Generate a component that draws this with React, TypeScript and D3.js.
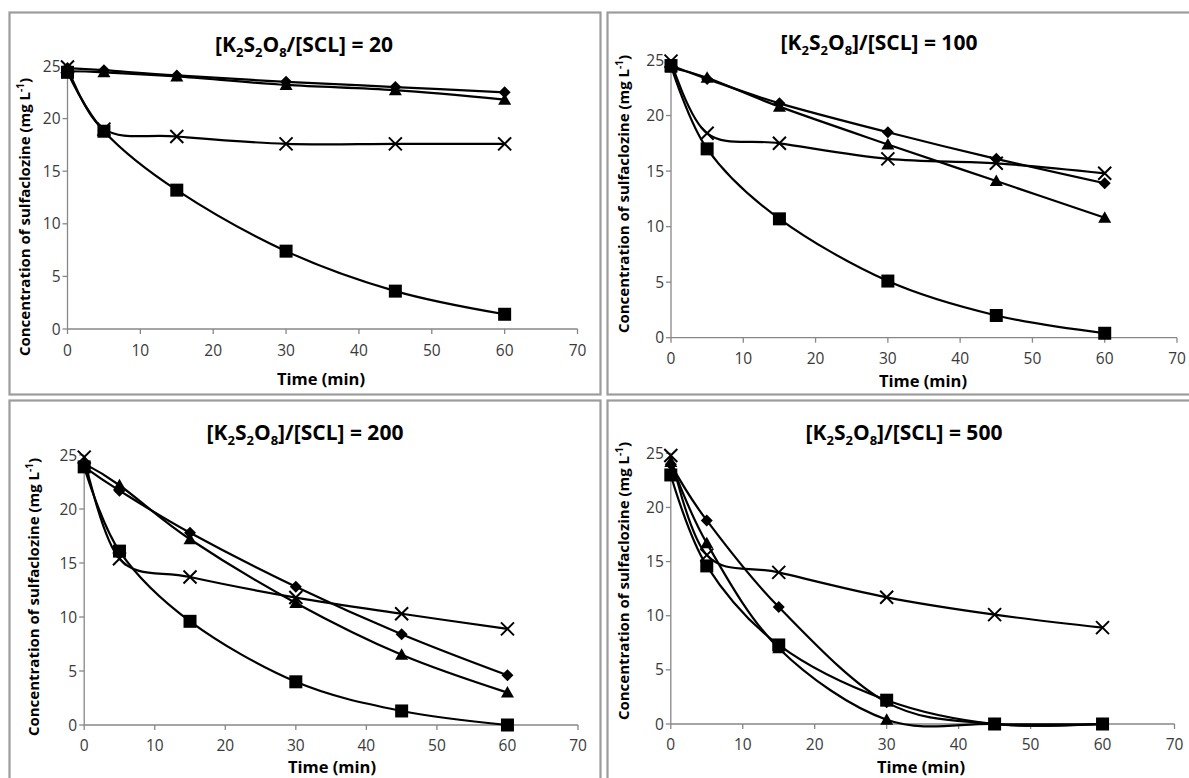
import React from 'react';
import * as d3 from 'd3';

// ---------- DATA ----------
const times = [0, 5, 15, 30, 45, 60];
const xTicks = [0, 10, 20, 30, 40, 50, 60, 70];
const yTicks = [0, 5, 10, 15, 20, 25];
const ratios = ['20', '100', '200', '500'];
const closingBracket = [false, true, true, true];
const seriesKinds = ['diamond', 'square', 'triangle', 'cross'];

// ratio 20
const r20Diamond = [24.8, 24.6, 24.1, 23.5, 23.0, 22.5];
const r20Square = [24.4, 18.8, 13.2, 7.4, 3.6, 1.4];
const r20Triangle = [24.5, 24.4, 24.0, 23.2, 22.7, 21.8];
const r20Cross = [24.9, 19.0, 18.3, 17.6, 17.6, 17.6];
// ratio 100
const r100Diamond = [24.5, 23.3, 21.1, 18.5, 16.1, 13.9];
const r100Square = [24.5, 17.0, 10.7, 5.1, 2.0, 0.4];
const r100Triangle = [24.3, 23.4, 20.8, 17.4, 14.1, 10.8];
const r100Cross = [24.9, 18.4, 17.5, 16.1, 15.7, 14.8];
// ratio 200
const r200Diamond = [23.9, 21.7, 17.8, 12.8, 8.4, 4.6];
const r200Square = [23.9, 16.1, 9.6, 4.0, 1.3, 0.0];
const r200Triangle = [24.2, 22.2, 17.2, 11.3, 6.5, 3.0];
const r200Cross = [24.8, 15.4, 13.7, 11.8, 10.3, 8.9];
// ratio 500
const r500Diamond = [24.0, 18.8, 10.8, 2.0, 0.0, 0.0];
const r500Square = [23.0, 14.6, 7.3, 2.2, 0.0, 0.0];
const r500Triangle = [24.2, 16.7, 7.0, 0.4, 0.0, 0.0];
const r500Cross = [24.8, 15.6, 14.0, 11.7, 10.1, 8.9];

const panelSeries = [
  [r20Diamond, r20Square, r20Triangle, r20Cross],
  [r100Diamond, r100Square, r100Triangle, r100Cross],
  [r200Diamond, r200Square, r200Triangle, r200Cross],
  [r500Diamond, r500Square, r500Triangle, r500Cross],
];

// ---------- LAYOUT ----------
const layouts = [
  { box: [9.5, 12.5, 600.5, 394.5], x0: 67.5, x1: 577.5, yb: 329, yt: 66, titleX: 304, titleY: 52, ylX: 25, ylY: 217, xlX: 321, xlY: 385, tickY: 356 },
  { box: [607.5, 12.5, 1200, 394.5], x0: 671, x1: 1177, yb: 337.7, yt: 60, titleX: 879, titleY: 50, ylX: 624, ylY: 194, xlX: 923, xlY: 387, tickY: 364 },
  { box: [9.5, 400.5, 600.5, 800], x0: 84.2, x1: 578, yb: 725, yt: 455, titleX: 305, titleY: 440, ylX: 34, ylY: 597, xlX: 332, xlY: 773, tickY: 751 },
  { box: [607.5, 400.5, 1200, 800], x0: 670.8, x1: 1174.5, yb: 724, yt: 453.3, titleX: 904, titleY: 440, ylX: 624, ylY: 581, xlX: 921, xlY: 773, tickY: 750 },
];

const FONT = "'Open Sans', 'DejaVu Sans', sans-serif";
const AXIS = '#878787';
const TICKTXT = '#3a3a3a';

function Marker({ kind, x, y }: { kind: string; x: number; y: number }) {
  if (kind === 'square') return <rect x={x - 6.5} y={y - 6.5} width={13} height={13} fill="#000" />;
  if (kind === 'diamond') return <path d={`M${x},${y - 6}L${x + 6},${y}L${x},${y + 6}L${x - 6},${y}Z`} fill="#000" />;
  if (kind === 'triangle') return <path d={`M${x},${y - 6.5}L${x + 6.5},${y + 5}L${x - 6.5},${y + 5}Z`} fill="#000" />;
  return <path d={`M${x - 6.5},${y - 6.5}L${x + 6.5},${y + 6.5}M${x - 6.5},${y + 6.5}L${x + 6.5},${y - 6.5}`} stroke="#000" strokeWidth={2} fill="none" />;
}

function Panel({ idx }: { idx: number }) {
  const L = layouts[idx];
  const xs = d3.scaleLinear().domain([0, 70]).range([L.x0, L.x1]);
  const ys = d3.scaleLinear().domain([0, 25]).range([L.yb, L.yt]);
  const line = d3
    .line<[number, number]>()
    .x((d) => xs(d[0]))
    .y((d) => ys(d[1]))
    .curve(d3.curveCardinal.tension(0));
  const series = panelSeries[idx];
  const [bx0, by0, bx1, by1] = L.box;
  return (
    <g>
      <rect x={bx0} y={by0} width={bx1 - bx0} height={by1 - by0} fill="#fff" stroke="#9c9c9c" strokeWidth={2.2} />
      {/* title */}
      <text x={L.titleX} y={L.titleY} textAnchor="middle" fontFamily={FONT} fontWeight="bold" fontSize={21} fill="#000">
        <tspan>[K</tspan>
        <tspan fontSize={13} dy={5}>2</tspan>
        <tspan dy={-5}>S</tspan>
        <tspan fontSize={13} dy={5}>2</tspan>
        <tspan dy={-5}>O</tspan>
        <tspan fontSize={13} dy={5}>8</tspan>
        <tspan dy={-5}>{(closingBracket[idx] ? ']' : '') + '/[SCL] = ' + ratios[idx]}</tspan>
      </text>
      {/* axes */}
      <line x1={L.x0} x2={L.x1} y1={L.yb} y2={L.yb} stroke={AXIS} strokeWidth={1.3} />
      <line x1={L.x0} x2={L.x0} y1={L.yb} y2={L.yt} stroke={AXIS} strokeWidth={1.3} />
      {xTicks.map((t) => (
        <g key={'x' + t}>
          <line x1={xs(t)} x2={xs(t)} y1={L.yb} y2={L.yb + 5} stroke={AXIS} strokeWidth={1.3} />
          <text x={xs(t)} y={L.tickY} textAnchor="middle" fontFamily={FONT} fontSize={15.5} fill={TICKTXT}>{t}</text>
        </g>
      ))}
      {yTicks.map((t) => (
        <g key={'y' + t}>
          <line x1={L.x0 - 5} x2={L.x0} y1={ys(t)} y2={ys(t)} stroke={AXIS} strokeWidth={1.3} />
          <text x={L.x0 - 7} y={ys(t)} dy="0.36em" textAnchor="end" fontFamily={FONT} fontSize={15.5} fill={TICKTXT}>{t}</text>
        </g>
      ))}
      {/* axis labels */}
      <text x={L.xlX} y={L.xlY} textAnchor="middle" fontFamily={FONT} fontWeight="bold" fontSize={16.5} fill="#000">Time (min)</text>
      <text transform={`translate(${L.ylX},${L.ylY}) rotate(-90)`} textAnchor="middle" dy="0.35em" fontFamily={FONT} fontWeight="bold" fontSize={15} fill="#000">
        <tspan>Concentration of sulfaclozine (mg L</tspan>
        <tspan fontSize={10} dy={-6}>-1</tspan>
        <tspan dy={6}>)</tspan>
      </text>
      {/* lines */}
      {series.map((vals, si) => (
        <path key={'l' + si} d={line(times.map((t, i) => [t, vals[i]]) as [number, number][]) || ''} fill="none" stroke="#000" strokeWidth={2.2} />
      ))}
      {/* markers */}
      {series.map((vals, si) => (
        <g key={'m' + si}>
          {times.map((t, i) => (
            <Marker key={i} kind={seriesKinds[si]} x={xs(t)} y={ys(vals[i])} />
          ))}
        </g>
      ))}
    </g>
  );
}

export default function App() {
  return (
    <svg width={1189} height={778} style={{ position: 'absolute', left: 0, top: 0, background: '#fff' }}>
      <rect x={0} y={0} width={1189} height={778} fill="#fff" />
      {[0, 1, 2, 3].map((i) => (
        <Panel key={i} idx={i} />
      ))}
    </svg>
  );
}
